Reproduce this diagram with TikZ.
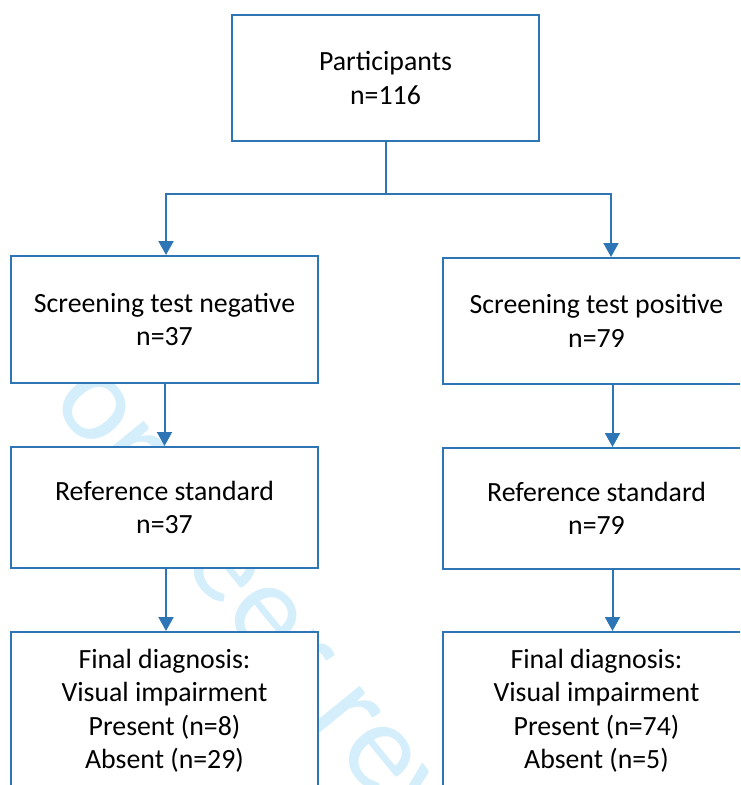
\documentclass[tikz,border=0pt]{standalone}
\usepackage{fontspec}
\setmainfont{Carlito}
\usetikzlibrary{arrows.meta, calc}
\definecolor{azul}{RGB}{46,117,182}
\definecolor{marca}{RGB}{212,238,251}
\tikzset{
    flowbox/.style={draw=azul, line width=2pt, fill=white, rectangle, minimum width=307pt, align=center, text=black, inner sep=0pt, font=\fontsize{27.8}{33.5}\selectfont},
    conn/.style={-, azul, line width=2pt},
    flow/.style={-{Triangle[width=15pt,length=14pt]}, azul, line width=2pt},
    watermark/.style={text=marca, inner sep=0pt, font=\fontsize{128}{128}\selectfont},
}

\begin{document}
\begin{tikzpicture}[x=1pt, y=-1pt]
    \useasboundingbox (0,0) rectangle (740,785);
    \clip (0,0) rectangle (740,785);

    % faint stamp behind the boxes
    \node[watermark, rotate=-50.8, anchor=base west] (wm) at (13,357) {For peer review only};

    \node[flowbox, minimum height=126pt] (part) at (385.5,78) {Participants\\n=116};

    \node[flowbox, minimum height=127pt] (neg) at (164.5,319.5) {Screening test negative\\n=37};
    \node[flowbox, minimum height=126pt] (pos) at (596.5,321) {Screening test positive\\n=79};

    \node[flowbox, minimum height=121pt] (refneg) at (164.5,507.5) {Reference standard\\n=37};
    \node[flowbox, minimum height=121pt] (refpos) at (596.5,508.5) {Reference standard\\n=79};

    \node[flowbox, minimum height=158pt] (finneg) at (164.5,711) {Final diagnosis:\\Visual impairment\\Present (n=8)\\Absent (n=29)};
    \node[flowbox, minimum height=158pt] (finpos) at (596.5,711) {Final diagnosis:\\Visual impairment\\Present (n=74)\\Absent (n=5)};

    \coordinate (split) at ($(part.south)+(0,52)$);

    \draw[conn] (part.south) -- (split);
    \draw[flow] (split) -| ([xshift=1.5pt]neg.north);
    \draw[flow] (split) -| ([xshift=14.5pt]pos.north);

    \draw[flow] (neg.south) -- (refneg.north);
    \draw[flow] ([xshift=16pt]pos.south) -- ([xshift=16pt]refpos.north);

    \draw[flow] ([xshift=1.5pt]refneg.south) -- ([xshift=1.5pt]finneg.north);
    \draw[flow] ([xshift=16pt]refpos.south) -- ([xshift=16pt]finpos.north);
\end{tikzpicture}
\end{document}
